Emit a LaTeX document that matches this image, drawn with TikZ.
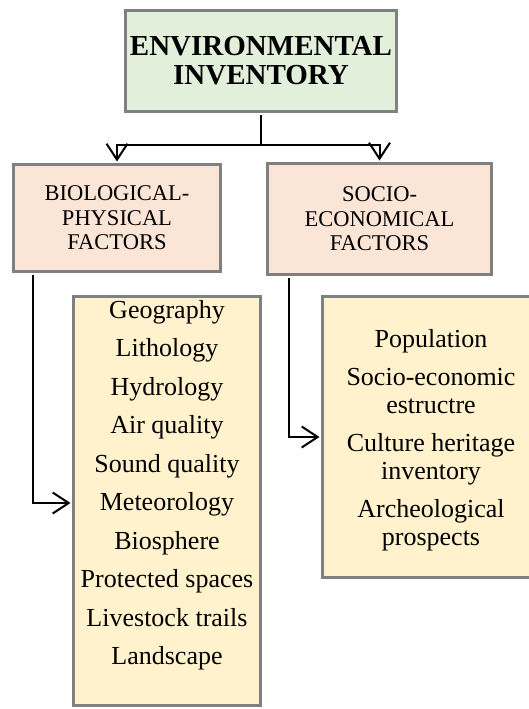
\documentclass[tikz,border=0pt]{standalone}
\usepackage{fontspec}
\setmainfont{Liberation Serif}
\usepackage{xcolor}
\definecolor{InvGreen}{RGB}{226,239,218}
\definecolor{FacPeach}{RGB}{251,229,214}
\definecolor{ListCream}{RGB}{255,242,204}
\definecolor{BoxGray}{RGB}{128,128,128}
\usetikzlibrary{arrows.meta, positioning, calc}

\begin{document}
\begin{tikzpicture}[
        x=1pt, y=1pt,
        box/.style={rectangle, draw=BoxGray, line width=3pt, align=center, inner sep=0pt},
        head/.style={box, fill=FacPeach, font=\fontsize{22.5}{24.5}\selectfont},
        list/.style={box, fill=ListCream},
        items/.style={align=center, inner sep=0pt, anchor=north},
        link/.style={-{Straight Barb[length=16pt,width=21pt]}, line width=2pt, color=black}
    ]
        \useasboundingbox (0,0) rectangle (528,-709);

        % --- TOP ---
        \node[box, fill=InvGreen, minimum width=271, minimum height=101,
              font=\bfseries\fontsize{29}{29}\selectfont] (inv) at (261,-61) {ENVIRONMENTAL\\INVENTORY};

        % --- FACTORS ---
        \node[head, minimum width=207, minimum height=107] (bio) at (117,-218) {BIOLOGICAL-\\PHYSICAL\\FACTORS};
        \node[head, minimum width=224, minimum height=111] (soc) at (379.5,-219) {SOCIO-\\ECONOMICAL\\FACTORS};

        % --- LISTS ---
        \node[list, minimum width=187, minimum height=409] (bioList) at (167,-501) {};
        \node[list, minimum width=217, minimum height=281] (socList) at (431,-437) {};

        \node[items, font=\fontsize{26}{38.5}\selectfont] (bioItems) at (167,-300)
            {Geography\\Lithology\\Hydrology\\Air quality\\Sound quality\\Meteorology\\Biosphere\\Protected spaces\\Livestock trails\\Landscape};
        \node[items, font=\fontsize{26}{27.5}\selectfont] (socItems) at (431,-329)
            {Population\\[11pt]Socio-economic\\estructre\\[11pt]Culture heritage\\inventory\\[11pt]Archeological\\prospects};

        % --- CONNECTIONS ---
        \coordinate (split) at (261,-145);
        \draw[line width=2pt, shorten <=1.5pt] (inv.south) -- (split);
        \draw[link, shorten >=1.5pt] (split) -| (bio.north);
        \draw[link, shorten >=1.5pt] (split) -| (soc.north);
        \draw[link, shorten <=1.5pt, shorten >=1.5pt] ([xshift=20.5pt]bio.south west) |- ([yshift=-2pt]bioList.west);
        \draw[link, shorten <=1.5pt, shorten >=1.5pt] ([xshift=22.5pt]soc.south west) |- (socList.west);

    \end{tikzpicture}
\end{document}
